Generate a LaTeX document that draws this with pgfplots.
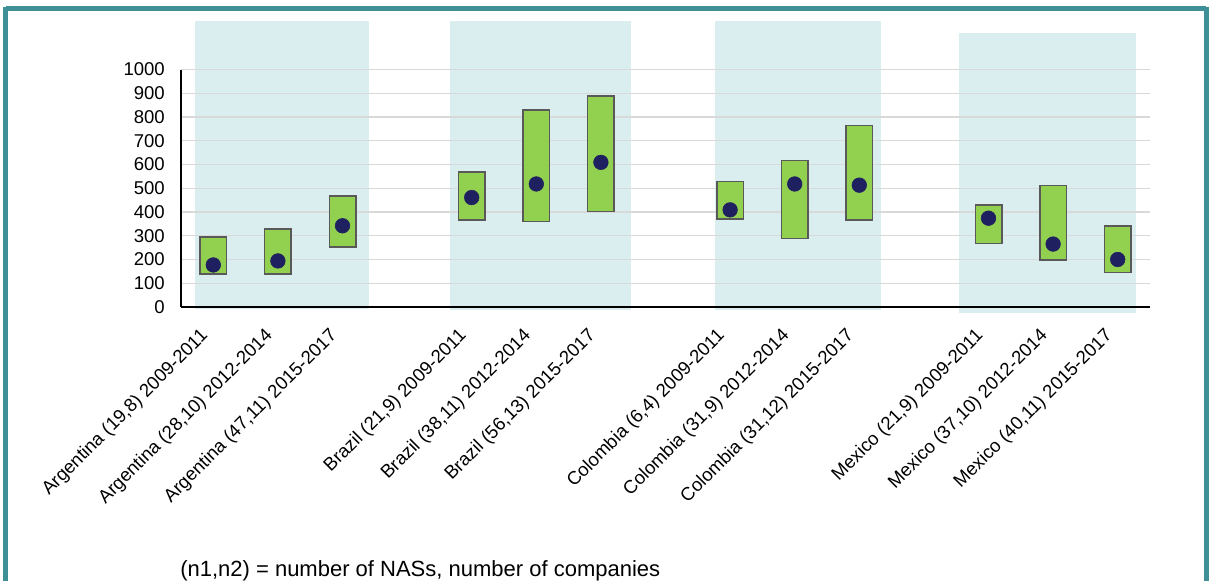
\documentclass[border=0pt]{standalone}
\usepackage{pgfplots}
\pgfplotsset{compat=1.18}
\usepackage{pgfplotstable}
\usepackage{fontspec}
\setmainfont{Liberation Sans}

\definecolor{frameteal}{HTML}{3F9096}
\definecolor{shade}{HTML}{DAEDEF}
\definecolor{boxgreen}{HTML}{92D050}
\definecolor{boxgray}{HTML}{595959}
\definecolor{dotblue}{HTML}{1F2060}
\definecolor{gridgray}{HTML}{D9D9D9}

% x = slot position, lo/hi = range, mid = point
\pgfplotstableread{
x  lo  hi  mid
0  139 294 177
1  139 329 194
2  253 468 342
4  367 568 461
5  359 830 518
6  402 889 609
8  371 529 409
9  288 616 518
10 367 764 513
12 267 429 374
13 198 512 265
14 145 342 200
}\ranges

\pgfplotsset{
  common/.style={
    at={(135.75pt,-230.25pt)}, anchor=south west,
    scale only axis, width=726.75pt, height=178.125pt,
    xmin=-0.5, xmax=14.5, ymin=0, ymax=1000,
  },
}

\begin{document}
\begin{tikzpicture}
\useasboundingbox (0,0) rectangle (906.75pt,-435.75pt);

% shaded country bands
\begin{axis}[common, axis lines=none, clip=false]
  \addplot[fill=shade, draw=none] coordinates {(-0.28,-8) (2.41,-8) (2.41,1204) (-0.28,1204)} --cycle;
  \addplot[fill=shade, draw=none] coordinates {(3.67,-13) (6.46,-13) (6.46,1204) (3.67,1204)} --cycle;
  \addplot[fill=shade, draw=none] coordinates {(7.76,-13) (10.33,-13) (10.33,1204) (7.76,1204)} --cycle;
  \addplot[fill=shade, draw=none] coordinates {(11.55,-25) (14.29,-25) (14.29,1154) (11.55,1154)} --cycle;
\end{axis}

% ranges
\begin{axis}[common,
    ybar stacked, bar width=19.9pt,
    axis x line*=bottom, axis y line*=left,
    axis line style={black, line width=1.1pt},
    major tick length=0pt,
    ytick={0,100,...,1000},
    ymajorgrids, grid style={gridgray, line width=1.1pt},
    xtick={0,1,2,4,5,6,8,9,10,12,13,14},
    xticklabels={{Argentina (19,8) 2009-2011},{Argentina (28,10) 2012-2014},{Argentina (47,11) 2015-2017},
      {Brazil (21,9) 2009-2011},{Brazil (38,11) 2012-2014},{Brazil (56,13) 2015-2017},
      {Colombia (6,4) 2009-2011},{Colombia (31,9) 2012-2014},{Colombia (31,12) 2015-2017},
      {Mexico (21,9) 2009-2011},{Mexico (37,10) 2012-2014},{Mexico (40,11) 2015-2017}},
    tick label style={font=\fontsize{13.9}{16}\selectfont, inner sep=0pt},
    /pgf/number format/assume math mode=true,
    /pgf/number format/1000 sep={},
    yticklabel style={anchor=east, xshift=-12pt},
    xticklabel style={xshift=-6pt, yshift=-19.5pt, rotate=45, anchor=east},
  ]
  \addplot[draw=none, fill=none] table[x=x, y=lo] {\ranges};
  \addplot[fill=boxgreen, draw=boxgray, line width=1.1pt] table[x=x, y expr=\thisrow{hi}-\thisrow{lo}] {\ranges};
\end{axis}

% points
\begin{axis}[common, axis lines=none]
  \addplot[only marks, mark=*, mark size=5.5pt, color=dotblue] table[x=x, y=mid] {\ranges};
\end{axis}

\begin{scope}[x=0.75pt, y=-0.75pt]
  \draw[frameteal, line width=3.75pt] (5.5,8.5) -- (1206,8.5);
  \draw[frameteal, line width=3.75pt] (5.5,6.6) -- (5.5,600);
  \draw[frameteal, line width=3.75pt] (1206,6.6) -- (1206,600);
  \node[anchor=base west, inner sep=0pt, font=\fontsize{16.5}{20}\selectfont] at (180,576)
    {(n1,n2) = number of NASs, number of companies};
\end{scope}
\end{tikzpicture}
\end{document}
